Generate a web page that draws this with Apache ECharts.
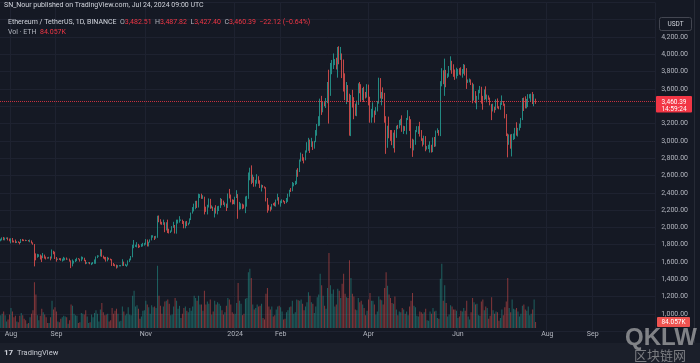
<!DOCTYPE html>
<html><head><meta charset="utf-8">
<script src="https://cdn.jsdelivr.net/npm/echarts@6/dist/echarts.min.js"></script>
<style>html,body{margin:0;padding:0;background:#151924;}#c{width:700px;height:363px;}</style>
</head><body><div id="c"></div>
<script>
// ---------- data (daily ETH/USDT, Binance) ----------
const startDate = '2023-07-25';
const totalSlots = 447;            // days shown on the time axis (incl. empty right margin)
const firstOpen = 1848;            // open of the first candle; later opens = previous close
const closes = [
// Jul 25-31 2023
1858,1871,1859,1875,1880,1860,1857,
// Aug
1870,1838,1836,1827,1834,1828,1827,1856,1854,1850,1849,1852,1842,1846,1820,1806,1688,1662,1668,1685,1667,1659,1682,1653,1651,1644,1657,1652,1729,1706,1645,
// Sep
1628,1636,1635,1628,1632,1633,1645,1635,1635,1617,1553,1593,1606,1625,1642,1635,1622,1640,1646,1623,1585,1592,1593,1582,1588,1594,1598,1653,1669,1671,
// Oct
1734,1664,1656,1648,1612,1646,1634,1633,1580,1567,1566,1540,1553,1555,1557,1600,1565,1565,1565,1604,1631,1655,1770,1785,1786,1804,1777,1775,1789,1809,1815,
// Nov
1848,1798,1832,1857,1893,1900,1887,1888,2120,2078,2052,2045,2055,1980,2058,1962,1958,1962,2012,2022,1930,2063,2063,2081,2084,2063,2027,2049,2028,2051,
// Dec
2088,2165,2193,2243,2293,2232,2358,2358,2343,2352,2225,2202,2260,2315,2220,2227,2195,2218,2177,2201,2240,2326,2265,2262,2273,2230,2378,2346,2300,2293,2282,
// Jan 2024
2352,2355,2210,2268,2268,2240,2222,2331,2344,2584,2618,2523,2576,2472,2511,2587,2529,2468,2490,2470,2453,2310,2241,2236,2218,2268,2265,2255,2316,2343,2283,
// Feb
2304,2309,2296,2289,2298,2374,2429,2420,2486,2500,2508,2659,2642,2776,2824,2803,2785,2881,2945,3012,2966,2971,2922,2992,3112,3178,3243,3385,3340,
// Mar
3433,3421,3488,3626,3553,3817,3868,3882,3910,3870,4066,3980,3998,3881,3737,3522,3645,3518,3160,3517,3491,3334,3330,3454,3592,3587,3501,3561,3510,3506,3647,
// Apr
3505,3279,3311,3331,3319,3352,3454,3694,3505,3545,3503,3243,3007,3156,3102,3085,2985,3064,3055,3156,3147,3201,3219,3139,3156,3130,3255,3264,3210,3015,
// May
2972,2988,3103,3117,3137,3063,3005,2974,3037,2910,2912,2949,2950,2881,3035,2945,3094,3122,3072,3661,3791,3737,3780,3728,3748,3826,3892,3842,3768,3747,3761,
// Jun
3815,3781,3766,3810,3865,3812,3679,3681,3706,3666,3499,3561,3470,3480,3567,3621,3510,3481,3559,3516,3516,3490,3420,3352,3392,3370,3449,3380,3375,3436,
// Jul 1-24
3440,3421,3297,3060,2982,3065,2930,3020,3067,3102,3100,3136,3175,3245,3485,3445,3389,3427,3505,3518,3535,3440,3482.51,3460.39
];
const highs = [
1870,1885,1890,1883,1884,1885,1872,
1875,1878,1848,1860,1840,1840,1833,1866,1867,1860,1858,1855,1855,1860,1850,1828,1808,1700,1695,1690,1687,1675,1705,1686,1664,1655,1660,1664,1745,1730,1720,
1658,1640,1645,1645,1640,1660,1650,1653,1638,1640,1620,1630,1615,1636,1650,1645,1638,1665,1660,1650,1625,1600,1598,1600,1593,1601,1630,1665,1680,1675,
1750,1746,1675,1660,1660,1660,1650,1640,1634,1590,1575,1570,1565,1565,1565,1633,1605,1580,1570,1620,1640,1670,1800,1855,1800,1830,1810,1792,1810,1822,1822,
1865,1860,1835,1862,1910,1910,1900,1903,2135,2138,2095,2065,2090,2060,2060,2090,1985,1965,2015,2065,2028,2090,2090,2130,2092,2090,2074,2070,2075,2055,
2105,2172,2235,2275,2307,2308,2390,2385,2390,2372,2355,2240,2262,2335,2330,2255,2240,2228,2257,2245,2250,2340,2330,2310,2290,2275,2392,2445,2380,2325,2320,
2355,2430,2385,2295,2278,2275,2265,2358,2365,2635,2690,2717,2610,2585,2550,2615,2592,2545,2495,2480,2475,2465,2340,2262,2240,2272,2280,2290,2322,2390,2350,
2310,2325,2318,2305,2340,2390,2435,2455,2525,2515,2538,2667,2685,2785,2865,2850,2810,2890,2985,3035,3015,3035,2995,3000,3125,3195,3285,3488,3520,
3450,3448,3495,3680,3822,3900,3935,4010,3945,3960,4085,4093,4085,4010,3940,3780,3680,3615,3545,3530,3590,3505,3430,3465,3665,3680,3655,3610,3625,3565,3655,
3650,3510,3370,3445,3350,3390,3460,3730,3725,3565,3618,3555,3285,3175,3280,3125,3125,3095,3125,3175,3185,3240,3255,3295,3175,3170,3265,3355,3285,3250,
3025,3015,3125,3170,3170,3220,3125,3030,3060,3055,2940,2955,2995,2955,3040,3045,3120,3145,3125,3690,3840,3815,3950,3820,3780,3865,3977,3925,3885,3825,3845,
3830,3840,3850,3830,3888,3880,3840,3710,3720,3710,3672,3655,3575,3520,3590,3635,3625,3520,3595,3630,3535,3525,3500,3425,3430,3395,3480,3490,3400,3445,
3525,3460,3430,3310,3085,3075,3075,3080,3085,3150,3215,3150,3200,3265,3495,3500,3515,3485,3540,3540,3545,3565,3540,3487.82
];
const lows = [
1840,1850,1852,1850,1867,1850,1840,
1816,1826,1826,1819,1820,1822,1804,1820,1842,1842,1842,1845,1838,1829,1815,1800,1550,1620,1650,1660,1630,1600,1645,1640,1630,1640,1640,1620,1640,1690,1635,
1605,1625,1625,1616,1605,1615,1620,1625,1630,1605,1530,1550,1582,1600,1610,1630,1605,1610,1630,1610,1575,1580,1585,1575,1565,1575,1580,1580,1645,1662,
1665,1660,1640,1630,1605,1608,1628,1620,1555,1555,1550,1525,1535,1550,1550,1555,1555,1555,1545,1560,1600,1620,1655,1760,1775,1770,1762,1770,1775,1780,1790,
1800,1780,1780,1825,1850,1882,1855,1870,1880,2060,2035,2030,2030,1945,1965,1935,1930,1935,1950,1995,1930,1928,2045,2055,2077,2040,1990,1990,2015,2025,
2043,2085,2160,2185,2210,2225,2230,2340,2330,2330,2150,2180,2150,2230,2215,2220,2190,2115,2160,2150,2190,2225,2255,2260,2240,2190,2225,2335,2290,2265,2270,
2265,2340,2100,2205,2210,2210,2220,2165,2240,2330,2545,2500,2515,2470,2475,2505,2505,2455,2415,2460,2450,2300,2170,2195,2185,2205,2255,2245,2240,2310,2265,
2240,2280,2290,2270,2280,2295,2355,2410,2418,2475,2490,2500,2585,2640,2760,2770,2740,2775,2865,2885,2860,2930,2895,2910,2985,3060,3170,3175,3300,
3330,3400,3380,3435,3200,3520,3770,3830,3875,3825,3730,3885,3935,3725,3570,3470,3425,3450,3060,3055,3385,3250,3290,3285,3415,3550,3450,3470,3450,3490,3500,
3410,3210,3210,3270,3210,3300,3340,3430,3490,3410,3485,3210,2850,2920,3030,3000,2950,2915,2865,3035,3135,3145,3180,3105,3080,3115,3075,3240,3115,2915,
2815,2890,2955,3100,3080,3050,3000,2935,2955,2880,2900,2905,2865,2865,2870,2930,2935,3090,3060,3055,3630,3655,3520,3620,3725,3740,3815,3775,3740,3705,3720,
3750,3765,3755,3730,3775,3755,3600,3670,3675,3645,3435,3465,3435,3365,3475,3550,3430,3360,3470,3480,3445,3475,3410,3240,3340,3325,3355,3375,3365,3360,
3415,3405,3260,3055,2810,2955,2910,2820,3010,3020,3060,3050,3120,3150,3240,3345,3375,3375,3390,3490,3450,3425,3400,3427.40
];
// daily volume in thousand ETH
const volumes = [
180,200,230,180,90,120,190,
280,230,150,170,90,80,170,210,180,130,110,60,70,150,200,250,640,470,180,110,170,270,220,190,150,70,70,150,380,260,290,
230,90,80,130,150,170,160,150,60,110,330,310,200,180,170,70,80,210,200,190,250,160,70,80,190,150,210,250,200,90,
260,350,220,180,190,200,90,110,280,200,240,270,200,90,100,300,230,180,200,290,190,180,450,520,300,320,270,130,160,240,250,
380,330,290,200,320,290,300,280,870,450,310,200,300,370,380,400,340,180,190,300,420,380,270,310,140,200,280,300,240,220,
280,240,300,450,420,380,450,330,330,240,520,330,370,340,400,190,230,380,330,360,340,310,250,190,220,310,420,400,330,220,200,
200,350,630,380,340,180,200,410,420,780,830,700,330,260,280,330,300,310,340,140,120,480,560,300,260,300,160,180,260,300,310,
290,230,120,130,220,250,290,300,380,200,220,400,390,380,400,340,250,300,360,500,450,360,340,210,300,430,470,760,600,
450,310,270,560,1050,600,480,540,300,330,550,520,420,620,760,480,430,420,950,700,480,440,260,250,420,360,380,330,280,180,240,
400,490,380,380,330,190,230,440,400,390,330,560,780,590,470,420,350,340,440,260,180,230,220,280,260,200,230,180,300,380,
490,310,290,170,160,230,220,200,220,270,110,100,230,200,280,230,240,140,130,690,900,380,600,350,160,190,320,300,260,260,240,
140,160,240,230,280,240,380,160,120,220,420,360,330,340,180,170,370,400,250,300,280,130,170,430,250,200,230,220,100,140,
260,180,290,370,700,280,220,400,270,260,280,230,160,200,310,330,260,240,300,180,200,260,400,84.057
];
const tickDates  = ['2023-08-01','2023-09-01','2023-11-01','2024-01-01','2024-02-01','2024-04-01','2024-06-01','2024-08-01','2024-09-01'];
const tickLabels = ['Aug','Sep','Nov','2024','Feb','Apr','Jun','Aug','Sep'];
const headerLine1 = 'SN_Nour published on TradingView.com, Jul 24, 2024 09:00 UTC';
const symbolText = 'Ethereum / TetherUS, 1D, BINANCE';
const ohlcText = {O:'3,482.51', H:'3,487.82', L:'3,427.40', C:'3,460.39', chg:'−22.12 (−0.64%)'};
const volText = '84.057K';
const countdown = '14:59:24';

// ---------- build ----------
const UP='#26a69a', DN='#ef5350', UPV='rgba(38,166,154,0.5)', DNV='rgba(239,83,80,0.5)';
const FONT='Roboto, "Noto Sans", sans-serif';
const categories=[];
{const d0=Date.UTC(2023,6,25);for(let i=0;i<totalSlots;i++){categories.push(new Date(d0+i*86400000).toISOString().slice(0,10));}}
const candle=[], volData=[];
for(let i=0;i<closes.length;i++){
  const o=i?closes[i-1]:firstOpen, c=closes[i];
  candle.push([o,c,Math.min(lows[i],o,c),Math.max(highs[i],o,c)]);
  volData.push({value:volumes[i],itemStyle:{color:c>=o?UPV:DNV}});
}
const lastClose=closes[closes.length-1], lastVol=volumes[volumes.length-1];
function fmt(v){const s=v.toFixed(2).split('.');return s[0].replace(/\B(?=(\d{3})+(?!\d))/g,',')+'.'+s[1];}

const chart=echarts.init(document.getElementById('c'));
chart.setOption({
  backgroundColor:'#151924',
  animation:false,
  grid:[{left:0,right:45,top:2.375,bottom:31.69},{left:0,right:45,top:228,bottom:35}],
  xAxis:[
    {type:'category',gridIndex:0,data:categories,boundaryGap:true,axisLine:{show:false},axisTick:{show:false},axisLabel:{show:false},
     splitLine:{show:true,interval:(i,v)=>tickDates.includes(v),lineStyle:{color:'#1e2230',width:1}}},
    {type:'category',gridIndex:1,data:categories,boundaryGap:true,axisLine:{show:false},axisTick:{show:false},
     axisLabel:{show:true,interval:(i,v)=>tickDates.includes(v),formatter:v=>tickLabels[tickDates.indexOf(v)]||'',color:'#b2b5be',fontSize:7,margin:3,fontFamily:FONT},
     splitLine:{show:false}}
  ],
  yAxis:[
    {type:'value',gridIndex:0,position:'right',min:800,max:4600,interval:200,axisLine:{show:false},axisTick:{show:false},
     axisLabel:{color:'#b2b5be',fontSize:7,fontFamily:FONT,align:'right',margin:33,formatter:v=>(v<1000||v>4200||v===3400)?'':fmt(v)},
     splitLine:{show:true,lineStyle:{color:'#1e2230',width:1}}},
    {type:'value',gridIndex:1,min:0,max:1400,show:false,splitLine:{show:false}}
  ],
  series:[
    {type:'bar',xAxisIndex:1,yAxisIndex:1,data:volData,barCategoryGap:'30%',z:1,silent:true},
    {type:'candlestick',xAxisIndex:0,yAxisIndex:0,data:candle,barWidth:1,z:3,
     itemStyle:{color:UP,color0:DN,borderColor:UP,borderColor0:DN,borderWidth:0.8},
     markLine:{symbol:['none','none'],silent:true,label:{show:false},lineStyle:{color:'#f23645',type:'dotted',width:1,opacity:0.8},data:[{yAxis:lastClose}]}}
  ]
});
const yP=chart.convertToPixel({yAxisIndex:0},lastClose);
const yV=chart.convertToPixel({yAxisIndex:1},lastVol);
chart.setOption({graphic:[
  {type:'text',left:4,top:2,z:100,style:{text:headerLine1,fill:'#d1d4dc',font:'7px '+FONT}},
  {type:'text',left:8,top:18.5,z:100,style:{
     text:symbolText+'  {g|O}{r|'+ohlcText.O+'}  {g|H}{r|'+ohlcText.H+'}  {g|L}{r|'+ohlcText.L+'}  {g|C}{r|'+ohlcText.C+'}  {r|'+ohlcText.chg+'}',
     fill:'#d1d4dc',font:'7px '+FONT,rich:{g:{fill:'#b2b5be',fontSize:7,fontFamily:FONT},r:{fill:'#f23645',fontSize:7,fontFamily:FONT}}}},
  {type:'text',left:8,top:28.5,z:100,style:{text:'Vol · ETH  {r|'+volText+'}',fill:'#b2b5be',font:'7px '+FONT,rich:{r:{fill:'#f23645',fontSize:7,fontFamily:FONT}}}},
  {type:'rect',z:100,shape:{x:659.5,y:17.5,width:32,height:13,r:2},style:{fill:'#151924',stroke:'#434651',lineWidth:1}},
  {type:'text',z:101,x:675.5,y:24,style:{text:'USDT',fill:'#d1d4dc',font:'6.5px '+FONT,align:'center',verticalAlign:'middle'}},
  {type:'rect',z:100,shape:{x:656,y:yP-5,width:36,height:16.5,r:1},style:{fill:'#f23645'}},
  {type:'text',z:101,x:674,y:yP+1.2,style:{text:fmt(lastClose),fill:'#ffffff',font:'6.5px '+FONT,align:'center',verticalAlign:'middle'}},
  {type:'text',z:101,x:674,y:yP+8,style:{text:countdown,fill:'#ffffff',font:'6.5px '+FONT,align:'center',verticalAlign:'middle'}},
  {type:'rect',z:100,shape:{x:657,y:yV-5,width:33,height:10,r:1},style:{fill:'#ef5350'}},
  {type:'text',z:101,x:673.5,y:yV,style:{text:volText,fill:'#ffffff',font:'6.5px '+FONT,align:'center',verticalAlign:'middle'}},
  {type:'line',z:99,shape:{x1:694.5,y1:0,x2:694.5,y2:343},style:{stroke:'#262a35',lineWidth:1}},
  {type:'rect',z:98,shape:{x:0,y:343,width:700,height:20},style:{fill:'#1b1f2a'}},
  {type:'text',z:101,left:4,top:349,style:{text:'17',fill:'#d1d4dc',font:'bold 8px '+FONT}},
  {type:'text',z:101,left:17,top:349,style:{text:'TradingView',fill:'#c7cad2',font:'7.5px '+FONT}},
  {type:'text',z:110,x:661,y:338,style:{text:'QKLW',fill:'rgba(200,200,200,0.6)',font:'bold 24px "Liberation Sans", Arial, sans-serif',align:'center',verticalAlign:'middle'}},
  {type:'text',z:110,x:660,y:355.5,style:{text:'区块链网',fill:'rgba(200,200,200,0.55)',font:'13px "Noto Sans CJK SC", sans-serif',align:'center',verticalAlign:'middle'}}
]});
</script>
</body></html>
